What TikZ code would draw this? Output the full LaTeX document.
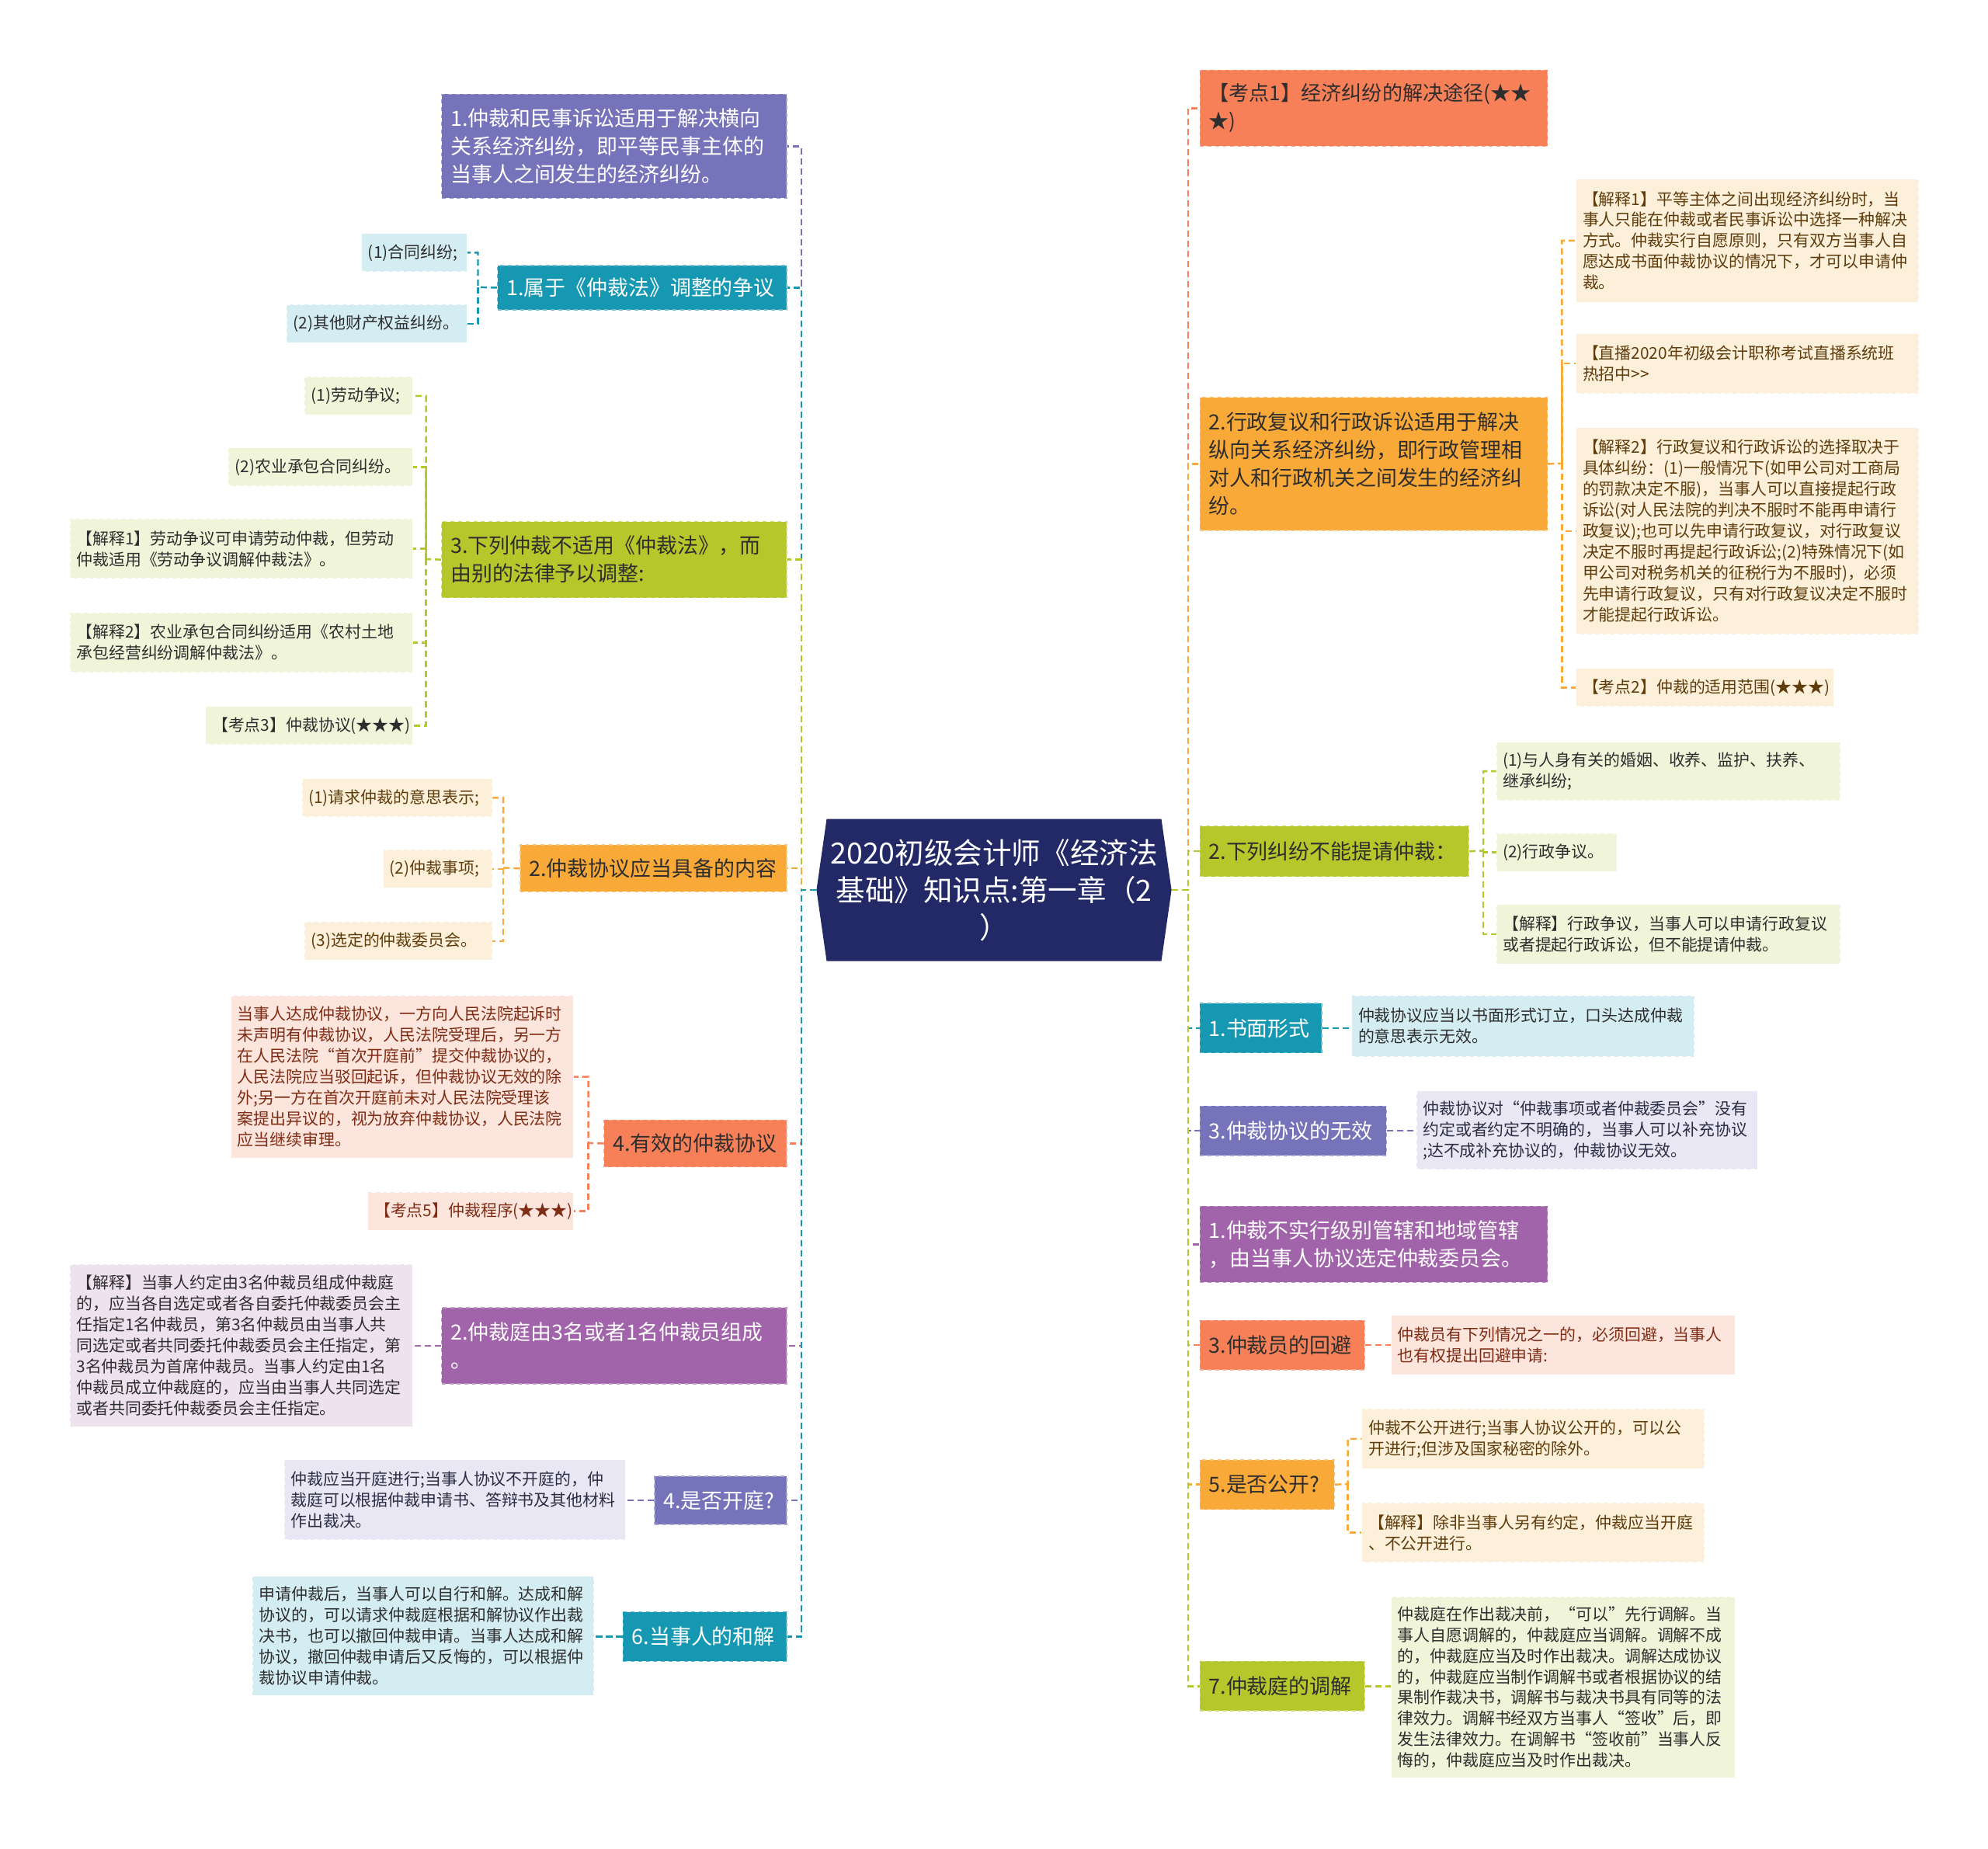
\documentclass[tikz,border=0pt]{standalone}
\usepackage{fontspec}
\setmainfont{Noto Sans CJK SC}
\usetikzlibrary{backgrounds}
\definecolor{cNavy}{HTML}{232966}
\definecolor{cPurple}{HTML}{7573BA}
\definecolor{cTeal}{HTML}{1698B3}
\definecolor{cGreen}{HTML}{B5C72A}
\definecolor{cOrange}{HTML}{F9A938}
\definecolor{cCoral}{HTML}{F78058}
\definecolor{cMagenta}{HTML}{A163AA}
\definecolor{fBlue}{HTML}{D4EDF3}
\definecolor{fGreen}{HTML}{F0F4D8}
\definecolor{fCream}{HTML}{FDF0DA}
\definecolor{fPink}{HTML}{FCE5DD}
\definecolor{fLilac}{HTML}{EFE2EF}
\definecolor{fLav}{HTML}{E8E7F3}
\definecolor{tBrown}{HTML}{5E3C0C}
\definecolor{tRed}{HTML}{7E2C14}
\definecolor{tDark}{HTML}{2E2E2E}
\definecolor{tNavyDark}{HTML}{2C2C44}
\begin{document}
\begin{tikzpicture}[x=1pt,y=-1pt,
  lvone/.style={rectangle, anchor=north west, inner xsep=7pt, inner ysep=0pt, align=left,
    font=\fontsize{16.5}{22}\selectfont, line width=0.8pt, dashed},
  leaf/.style={rectangle, anchor=north west, inner xsep=5pt, inner ysep=0pt, align=left,
    font=\fontsize{12.8}{16.5}\selectfont, line width=0.6pt, dashed},
  conn/.style={line width=1.5pt, dash pattern=on 5pt off 3pt},
  kPurple/.style={fill=cPurple, draw=cPurple!65!white, text=white},
  kTeal/.style={fill=cTeal, draw=cTeal!65!white, text=white},
  kGreen/.style={fill=cGreen, draw=cGreen!65!white, text=tDark},
  kOrange/.style={fill=cOrange, draw=cOrange!65!white, text=tDark},
  kCoral/.style={fill=cCoral, draw=cCoral!65!white, text=tDark},
  kMagenta/.style={fill=cMagenta, draw=cMagenta!65!white, text=white},
  fB/.style={fill=fBlue, draw=white, text=tDark},
  fG/.style={fill=fGreen, draw=white, text=tDark},
  fC/.style={fill=fCream, draw=white, text=tBrown},
  fP/.style={fill=fPink, draw=white, text=tRed},
  fL/.style={fill=fLilac, draw=white, text=tDark},
  fV/.style={fill=fLav, draw=white, text=tNavyDark}
]
\useasboundingbox (0,0) rectangle (1568,1458);

% ---------- central topic ----------
\fill[cNavy] (652,646) -- (916,646) -- (924,702) -- (916,758) -- (652,758) -- (644,702) -- cycle;
\node[minimum width=280pt, minimum height=112pt, inner sep=0pt, text=white, align=center,
  font=\fontsize{23}{29.5}\selectfont] (C) at (784,702)
  {2020初级会计师《经济法\\基础》知识点:第一章（2\\）};

\coordinate (TL) at (632,702);
\coordinate (TR) at (937,702);

% ---------- left level-1 nodes ----------
\node[lvone,kPurple,minimum width=272pt,minimum height=82pt,text width=258pt] (L1) at (348,74)
  {1.仲裁和民事诉讼适用于解决横向\\关系经济纠纷，即平等民事主体的\\当事人之间发生的经济纠纷。};
\node[lvone,kTeal,minimum width=228pt,minimum height=35pt,text width=214pt] (L2) at (392,209)
  {1.属于《仲裁法》调整的争议};
\node[lvone,kGreen,minimum width=272pt,minimum height=60pt,text width=258pt] (L3) at (348,411)
  {3.下列仲裁不适用《仲裁法》，而\\由别的法律予以调整:};
\node[lvone,kOrange,minimum width=210pt,minimum height=37pt,text width=196pt] (L4) at (410,666)
  {2.仲裁协议应当具备的内容};
\node[lvone,kCoral,minimum width=144pt,minimum height=37pt,text width=130pt] (L5) at (476,883)
  {4.有效的仲裁协议};
\node[lvone,kMagenta,minimum width=272pt,minimum height=60pt,text width=258pt] (L6) at (348,1031)
  {2.仲裁庭由3名或者1名仲裁员组成\\。};
\node[lvone,kPurple,minimum width=104pt,minimum height=38pt,text width=90pt] (L7) at (516,1164)
  {4.是否开庭?};
\node[lvone,kTeal,minimum width=129pt,minimum height=39pt,text width=115pt] (L8) at (491,1271)
  {6.当事人的和解};

% ---------- left leaves ----------
\node[leaf,fB,minimum width=83pt,minimum height=30pt,text width=73pt] (L2a) at (285,184) {(1)合同纠纷;};
\node[leaf,fB,minimum width=142pt,minimum height=30pt,text width=132pt] (L2b) at (226,240) {(2)其他财产权益纠纷。};

\node[leaf,fG,minimum width=85pt,minimum height=30pt,text width=75pt] (L3a) at (240,297) {(1)劳动争议;};
\node[leaf,fG,minimum width=145pt,minimum height=30pt,text width=135pt] (L3b) at (180,353) {(2)农业承包合同纠纷。};
\node[leaf,fG,minimum width=270pt,minimum height=47pt,text width=260pt] (L3c) at (55,409)
  {【解释1】劳动争议可申请劳动仲裁，但劳动\\仲裁适用《劳动争议调解仲裁法》。};
\node[leaf,fG,minimum width=270pt,minimum height=47pt,text width=260pt] (L3d) at (55,483)
  {【解释2】农业承包合同纠纷适用《农村土地\\承包经营纠纷调解仲裁法》。};
\node[leaf,fG,minimum width=163pt,minimum height=30pt,text width=153pt] (L3e) at (162,557) {【考点3】仲裁协议(★★★)};

\node[leaf,fC,minimum width=150pt,minimum height=30pt,text width=140pt] (L4a) at (238,614) {(1)请求仲裁的意思表示;};
\node[leaf,fC,minimum width=86pt,minimum height=30pt,text width=76pt] (L4b) at (302,670) {(2)仲裁事项;};
\node[leaf,fC,minimum width=148pt,minimum height=30pt,text width=138pt] (L4c) at (240,727) {(3)选定的仲裁委员会。};

\node[leaf,fP,minimum width=270pt,minimum height=128pt,text width=260pt] (L5a) at (182,785)
  {当事人达成仲裁协议，一方向人民法院起诉时\\未声明有仲裁协议，人民法院受理后，另一方\\在人民法院“首次开庭前”提交仲裁协议的，\\人民法院应当驳回起诉，但仲裁协议无效的除\\外;另一方在首次开庭前未对人民法院受理该\\案提出异议的，视为放弃仲裁协议，人民法院\\应当继续审理。};
\node[leaf,fP,minimum width=162pt,minimum height=30pt,text width=152pt] (L5b) at (290,940) {【考点5】仲裁程序(★★★)};

\node[leaf,fL,minimum width=270pt,minimum height=128pt,text width=260pt] (L6a) at (55,997)
  {【解释】当事人约定由3名仲裁员组成仲裁庭\\的，应当各自选定或者各自委托仲裁委员会主\\任指定1名仲裁员，第3名仲裁员由当事人共\\同选定或者共同委托仲裁委员会主任指定，第\\3名仲裁员为首席仲裁员。当事人约定由1名\\仲裁员成立仲裁庭的，应当由当事人共同选定\\或者共同委托仲裁委员会主任指定。};

\node[leaf,fV,minimum width=269pt,minimum height=63pt,text width=259pt] (L7a) at (224,1151)
  {仲裁应当开庭进行;当事人协议不开庭的，仲\\裁庭可以根据仲裁申请书、答辩书及其他材料\\作出裁决。};

\node[leaf,fB,minimum width=269pt,minimum height=94pt,text width=259pt] (L8a) at (199,1243)
  {申请仲裁后，当事人可以自行和解。达成和解\\协议的，可以请求仲裁庭根据和解协议作出裁\\决书，也可以撤回仲裁申请。当事人达成和解\\协议，撤回仲裁申请后又反悔的，可以根据仲\\裁协议申请仲裁。};

% ---------- right level-1 nodes ----------
\node[lvone,kCoral,minimum width=274pt,minimum height=60pt,text width=260pt,
  font=\fontsize{16}{22}\selectfont] (R1) at (946,55)
  {【考点1】经济纠纷的解决途径(★★\\★)};
\node[lvone,kOrange,minimum width=274pt,minimum height=105pt,text width=260pt] (R2) at (946,313)
  {2.行政复议和行政诉讼适用于解决\\纵向关系经济纠纷，即行政管理相\\对人和行政机关之间发生的经济纠\\纷。};
\node[lvone,kGreen,minimum width=212pt,minimum height=40pt,text width=198pt] (R3) at (946,651)
  {2.下列纠纷不能提请仲裁：};
\node[lvone,kTeal,minimum width=96pt,minimum height=39pt,text width=82pt] (R4) at (946,791)
  {1.书面形式};
\node[lvone,kPurple,minimum width=147pt,minimum height=39pt,text width=133pt] (R5) at (946,872)
  {3.仲裁协议的无效};
\node[lvone,kMagenta,minimum width=274pt,minimum height=60pt,text width=260pt] (R6) at (946,951)
  {1.仲裁不实行级别管辖和地域管辖\\，由当事人协议选定仲裁委员会。};
\node[lvone,kCoral,minimum width=130pt,minimum height=39pt,text width=116pt] (R7) at (946,1041)
  {3.仲裁员的回避};
\node[lvone,kOrange,minimum width=106pt,minimum height=39pt,text width=92pt] (R8) at (946,1151)
  {5.是否公开?};
\node[lvone,kGreen,minimum width=130pt,minimum height=39pt,text width=116pt] (R9) at (946,1310)
  {7.仲裁庭的调解};

% ---------- right leaves ----------
\node[leaf,fC,minimum width=270pt,minimum height=97pt,text width=260pt] (R2a) at (1243,141)
  {【解释1】平等主体之间出现经济纠纷时，当\\事人只能在仲裁或者民事诉讼中选择一种解决\\方式。仲裁实行自愿原则，只有双方当事人自\\愿达成书面仲裁协议的情况下，才可以申请仲\\裁。};
\node[leaf,fC,minimum width=270pt,minimum height=47pt,text width=260pt] (R2b) at (1243,263)
  {【直播2020年初级会计职称考试直播系统班\\热招中>{}>};
\node[leaf,fC,minimum width=270pt,minimum height=163pt,text width=260pt] (R2c) at (1243,337)
  {【解释2】行政复议和行政诉讼的选择取决于\\具体纠纷：(1)一般情况下(如甲公司对工商局\\的罚款决定不服)，当事人可以直接提起行政\\诉讼(对人民法院的判决不服时不能再申请行\\政复议);也可以先申请行政复议，对行政复议\\决定不服时再提起行政诉讼;(2)特殊情况下(如\\甲公司对税务机关的征税行为不服时)，必须\\先申请行政复议，只有对行政复议决定不服时\\才能提起行政诉讼。};
\node[leaf,fC,minimum width=203pt,minimum height=30pt,text width=193pt] (R2d) at (1243,527)
  {【考点2】仲裁的适用范围(★★★)};

\node[leaf,fG,minimum width=271pt,minimum height=46pt,text width=261pt] (R3a) at (1180,585)
  {(1)与人身有关的婚姻、收养、监护、扶养、\\继承纠纷;};
\node[leaf,fG,minimum width=95pt,minimum height=30pt,text width=85pt] (R3b) at (1180,657)
  {(2)行政争议。};
\node[leaf,fG,minimum width=271pt,minimum height=47pt,text width=261pt] (R3c) at (1180,713)
  {【解释】行政争议，当事人可以申请行政复议\\或者提起行政诉讼，但不能提请仲裁。};

\node[leaf,fB,minimum width=270pt,minimum height=48pt,text width=260pt] (R4a) at (1066,785)
  {仲裁协议应当以书面形式订立，口头达成仲裁\\的意思表示无效。};

\node[leaf,fV,minimum width=269pt,minimum height=62pt,text width=259pt] (R5a) at (1117,860)
  {仲裁协议对“仲裁事项或者仲裁委员会”没有\\约定或者约定不明确的，当事人可以补充协议\\;达不成补充协议的，仲裁协议无效。};

\node[leaf,fP,minimum width=271pt,minimum height=47pt,text width=261pt] (R7a) at (1097,1037)
  {仲裁员有下列情况之一的，必须回避，当事人\\也有权提出回避申请:};

\node[leaf,fC,minimum width=270pt,minimum height=47pt,text width=260pt] (R8a) at (1074,1111)
  {仲裁不公开进行;当事人协议公开的，可以公\\开进行;但涉及国家秘密的除外。};
\node[leaf,fC,minimum width=270pt,minimum height=47pt,text width=260pt] (R8b) at (1074,1185)
  {【解释】除非当事人另有约定，仲裁应当开庭\\、不公开进行。};

\node[leaf,fG,minimum width=271pt,minimum height=143pt,text width=261pt] (R9a) at (1097,1259)
  {仲裁庭在作出裁决前，“可以”先行调解。当\\事人自愿调解的，仲裁庭应当调解。调解不成\\的，仲裁庭应当及时作出裁决。调解达成协议\\的，仲裁庭应当制作调解书或者根据协议的结\\果制作裁决书，调解书与裁决书具有同等的法\\律效力。调解书经双方当事人“签收”后，即\\发生法律效力。在调解书“签收前”当事人反\\悔的，仲裁庭应当及时作出裁决。};

\coordinate (B2) at (377,226.5);
\coordinate (B3) at (336,441);
\coordinate (B4) at (397,684.5);
\coordinate (B5) at (464,901.5);
\coordinate (RB2) at (1232,365.5);
\coordinate (RB3) at (1170,671);
\coordinate (RB8) at (1063,1170.5);

\begin{pgfonlayer}{background}
\fill[white] (0,0) rectangle (1568,1458);

% ---------- center to level 1 ----------
\draw[conn,cPurple] (C.west) -- (TL) |- (L1.east);
\draw[conn,cTeal] (C.west) -- (TL) |- (L2.east);
\draw[conn,cGreen] (C.west) -- (TL) |- (L3.east);
\draw[conn,cOrange] (C.west) -- (TL) |- (L4.east);
\draw[conn,cCoral] (C.west) -- (TL) |- (L5.east);
\draw[conn,cMagenta] (C.west) -- (TL) |- (L6.east);
\draw[conn,cPurple] (C.west) -- (TL) |- (L7.east);
\draw[conn,cTeal] (C.west) -- (TL) |- (L8.east);

\draw[conn,cCoral] (C.east) -- (TR) |- (R1.west);
\draw[conn,cOrange] (C.east) -- (TR) |- (R2.west);
\draw[conn,cGreen] (C.east) -- (TR) |- (R3.west);
\draw[conn,cTeal] (C.east) -- (TR) |- (R4.west);
\draw[conn,cPurple] (C.east) -- (TR) |- (R5.west);
\draw[conn,cMagenta] (C.east) -- (TR) |- (R6.west);
\draw[conn,cCoral] (C.east) -- (TR) |- (R7.west);
\draw[conn,cOrange] (C.east) -- (TR) |- (R8.west);
\draw[conn,cGreen] (C.east) -- (TR) |- (R9.west);

% ---------- level 1 to leaves ----------
\draw[conn,cTeal] (L2.west) -- (B2) |- (L2a.east);
\draw[conn,cTeal] (B2) |- (L2b.east);

\draw[conn,cGreen] (L3.west) -- (B3) |- (L3a.east);
\draw[conn,cGreen] (B3) |- (L3b.east);
\draw[conn,cGreen] (B3) |- (L3c.east);
\draw[conn,cGreen] (B3) |- (L3d.east);
\draw[conn,cGreen] (B3) |- (L3e.east);

\draw[conn,cOrange] (L4.west) -- (B4) |- (L4a.east);
\draw[conn,cOrange] (B4) |- (L4b.east);
\draw[conn,cOrange] (B4) |- (L4c.east);

\draw[conn,cCoral] (L5.west) -- (B5) |- (L5a.east);
\draw[conn,cCoral] (B5) |- (L5b.east);

\draw[conn,cMagenta] (L6.west) -- (L6.west -| L6a.east);
\draw[conn,cPurple] (L7.west) -- (L7.west -| L7a.east);
\draw[conn,cTeal] (L8.west) -- (L8.west -| L8a.east);

\draw[conn,cOrange] (R2.east) -- (RB2) |- (R2a.west);
\draw[conn,cOrange] (RB2) |- (R2b.west);
\draw[conn,cOrange] (RB2) |- (R2c.west);
\draw[conn,cOrange] (RB2) |- (R2d.west);

\draw[conn,cGreen] (R3.east) -- (RB3) |- (R3a.west);
\draw[conn,cGreen] (RB3) |- (R3b.west);
\draw[conn,cGreen] (RB3) |- (R3c.west);

\draw[conn,cTeal] (R4.east) -- (R4.east -| R4a.west);
\draw[conn,cPurple] (R5.east) -- (R5.east -| R5a.west);
\draw[conn,cCoral] (R7.east) -- (R7.east -| R7a.west);

\draw[conn,cOrange] (R8.east) -- (RB8) |- (R8a.west);
\draw[conn,cOrange] (RB8) |- (R8b.west);

\draw[conn,cGreen] (R9.east) -- (R9.east -| R9a.west);
\end{pgfonlayer}
\end{tikzpicture}
\end{document}
